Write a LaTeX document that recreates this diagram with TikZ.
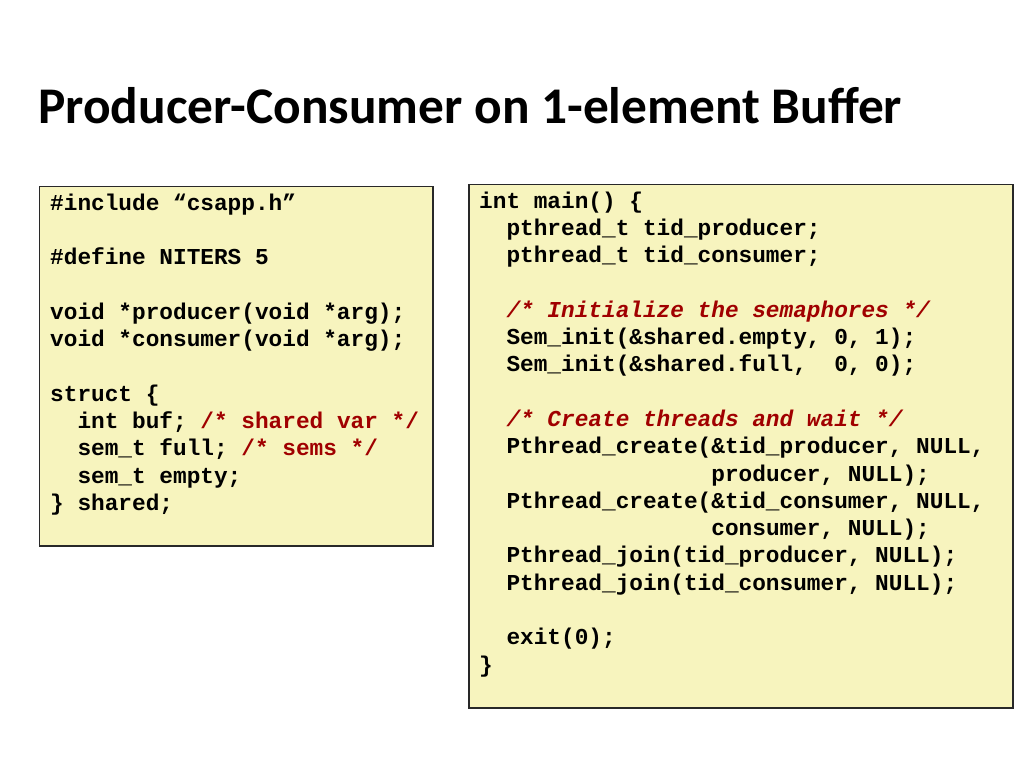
\documentclass[tikz,border=0pt]{standalone}
\usepackage{fontspec}
\usepackage{xcolor}
\setmainfont{Carlito}
\newfontfamily\codefont{Liberation Mono}
\usetikzlibrary{positioning}
\definecolor{boxfill}{RGB}{247,244,190}
\definecolor{boxline}{RGB}{40,40,40}
\definecolor{cmt}{RGB}{160,0,0}
\newcommand{\cmtup}[1]{\textcolor{cmt}{#1}}
\newcommand{\cmtit}[1]{\textcolor{cmt}{\itshape #1}}
\tikzset{
	code box/.style={draw=boxline,fill=boxfill,line width=1.2pt},
	code line/.style={anchor=base west,inner sep=0pt,
		font=\codefont\bfseries\fontsize{22.76}{27.3}\selectfont},
	title text/.style={anchor=base west,inner sep=0pt,
		font=\bfseries\fontsize{51.4}{60}\selectfont}
}
\frenchspacing

\begin{document}
\begin{tikzpicture}[x=1pt,y=-1pt]
	\useasboundingbox (0,0) rectangle (1024,768);
	\node [title text] (title) at (38,123) {Producer-Consumer on 1-element Buffer};
	% the two code boxes
	\draw [code box] (39.5,186.5) rectangle (433,546) coordinate (leftbox);
	\draw [code box] (469,184.5) rectangle (1013,708) coordinate (rightbox);
	% left box: declarations
	\foreach \n/\txt in {
		0/{\#include “csapp.h”},
		2/{\#define NITERS 5},
		4/{void *producer(void *arg);},
		5/{void *consumer(void *arg);},
		7/{struct \{},
		8/{\ \ int buf; \cmtup{/* shared var */}},
		9/{\ \ sem\_t full; \cmtup{/* sems */}},
		10/{\ \ sem\_t empty;},
		11/{\} shared;}}
		\node [code line] (l\n) at (50,210+27.3*\n) {\txt};
	% right box: main
	\foreach \n/\txt in {
		0/{int main() \{},
		1/{\ \ pthread\_t tid\_producer;},
		2/{\ \ pthread\_t tid\_consumer;},
		4/{\ \ \cmtit{/* Initialize the semaphores */}},
		5/{\ \ Sem\_init(\&shared.empty, 0, 1);},
		6/{\ \ Sem\_init(\&shared.full,\ \ 0, 0);},
		8/{\ \ \cmtit{/* Create threads and wait */}},
		9/{\ \ Pthread\_create(\&tid\_producer, NULL,},
		10/{\ \ \ \ \ \ \ \ \ \ \ \ \ \ \ \ \ producer, NULL);},
		11/{\ \ Pthread\_create(\&tid\_consumer, NULL,},
		12/{\ \ \ \ \ \ \ \ \ \ \ \ \ \ \ \ \ consumer, NULL);},
		13/{\ \ Pthread\_join(tid\_producer, NULL);},
		14/{\ \ Pthread\_join(tid\_consumer, NULL);},
		16/{\ \ exit(0);},
		17/{\}}}
		\node [code line] (r\n) at (479,208+27.3*\n) {\txt};
\end{tikzpicture}
\end{document}
